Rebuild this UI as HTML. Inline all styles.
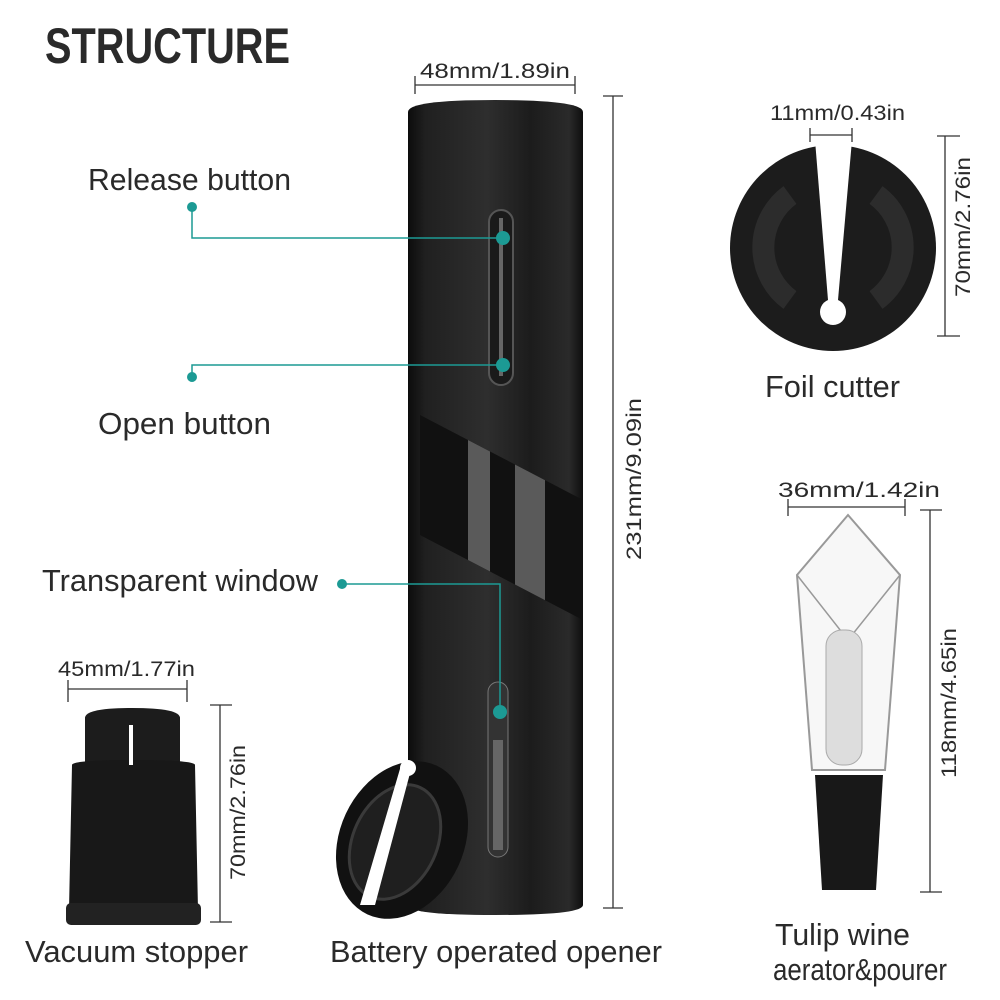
<!DOCTYPE html>
<html><head><meta charset="utf-8"><style>
html,body{margin:0;padding:0;background:#fff;width:1000px;height:1000px;overflow:hidden}
text{font-family:"Liberation Sans",sans-serif;fill:#2a2a2a}
</style></head><body>
<svg width="1000" height="1000" viewBox="0 0 1000 1000" xmlns="http://www.w3.org/2000/svg">
<defs>
<linearGradient id="cyl" x1="0" x2="1">
<stop offset="0" stop-color="#0c0c0c"/><stop offset="0.1" stop-color="#202020"/><stop offset="0.45" stop-color="#2e2e2e"/><stop offset="0.7" stop-color="#1c1c1c"/><stop offset="0.92" stop-color="#2a2a2a"/><stop offset="1" stop-color="#0e0e0e"/>
</linearGradient>
<clipPath id="band"><path d="M420 415 L583 500 L583 620 L420 535 Z"/></clipPath>
</defs>
<text x="45" y="63" font-size="50" font-weight="bold" fill="#333" textLength="245" lengthAdjust="spacingAndGlyphs">STRUCTURE</text>

<!-- main cylinder -->
<path d="M408 112 Q408 100 495 100 Q583 100 583 112 L583 905 Q583 915 495 915 Q408 915 408 905 Z" fill="url(#cyl)"/>
<g clip-path="url(#band)">
<rect x="408" y="400" width="180" height="230" fill="#111"/>
<rect x="468" y="400" width="22" height="230" fill="#5a5a5a"/>
<rect x="515" y="400" width="30" height="230" fill="#5a5a5a"/>
</g>
<rect x="489" y="210" width="24" height="175" rx="12" fill="#1a1a1a" stroke="#555" stroke-width="2"/>
<rect x="499" y="218" width="4" height="158" fill="#666"/>
<rect x="488" y="682" width="20" height="175" rx="10" fill="#333" stroke="#777"/>
<rect x="493" y="740" width="10" height="110" fill="#888" opacity="0.6"/>

<!-- cutter on opener -->
<ellipse cx="402" cy="840" rx="62" ry="82" transform="rotate(25 402 840)" fill="#111"/>
<ellipse cx="395" cy="842" rx="42" ry="60" transform="rotate(25 395 842)" fill="#1f1f1f" stroke="#3a3a3a" stroke-width="3"/>
<path d="M402 762 L413 762 L375 905 L360 905 Z" fill="#fff"/>
<circle cx="408" cy="768" r="8" fill="#fff"/>

<!-- foil cutter top right -->
<circle cx="833" cy="248" r="103" fill="#1c1c1c"/>
<path d="M790 195 A65 65 0 0 0 790 300" stroke="#2c2c2c" stroke-width="22" fill="none"/>
<path d="M876 195 A65 65 0 0 1 876 300" stroke="#2c2c2c" stroke-width="22" fill="none"/>
<path d="M815 140 L828 300 L838 300 L852 140 Z" fill="#fff"/>
<circle cx="833" cy="312" r="13" fill="#fff"/>

<!-- aerator -->
<path d="M797 575 L848 515 L900 575 L885 770 L812 770 Z" fill="#f7f7f7" stroke="#999" stroke-width="2"/>
<path d="M797 575 L848 640 L900 575" fill="none" stroke="#999" stroke-width="1.5"/>
<rect x="826" y="630" width="36" height="135" rx="16" fill="#ddd" stroke="#aaa"/>
<path d="M815 775 L883 775 L876 890 L822 890 Z" fill="#181818"/>

<!-- vacuum stopper -->
<path d="M85 718 Q85 708 132 708 Q180 708 180 718 L180 770 L85 770 Z" fill="#1c1c1c"/>
<path d="M72 765 Q72 760 132 760 Q195 760 195 765 L198 910 L69 910 Z" fill="#181818"/>
<rect x="66" y="903" width="135" height="22" rx="5" fill="#222"/>
<rect x="129" y="725" width="4" height="40" fill="#fff"/>

<!-- teal callouts -->
<g stroke="#1c9a94" stroke-width="1.5" fill="none">
<path d="M192 207 L192 238 L503 238"/>
<path d="M192 377 L192 365 L503 365"/>
<path d="M342 584 L500 584 L500 712"/>
</g>
<g fill="#1c9a94">
<circle cx="192" cy="207" r="5"/><circle cx="192" cy="377" r="5"/><circle cx="342" cy="584" r="5"/>
<circle cx="503" cy="238" r="7"/><circle cx="503" cy="365" r="7"/><circle cx="500" cy="712" r="7"/>
</g>

<!-- dimension lines -->
<g stroke="#333" stroke-width="1.3">
<line x1="415" y1="85" x2="575" y2="85"/><line x1="415" y1="76" x2="415" y2="94"/><line x1="575" y1="76" x2="575" y2="94"/>
<line x1="613" y1="96" x2="613" y2="908"/><line x1="603" y1="96" x2="623" y2="96"/><line x1="603" y1="908" x2="623" y2="908"/>
<line x1="810" y1="135" x2="852" y2="135"/><line x1="810" y1="128" x2="810" y2="142"/><line x1="852" y1="128" x2="852" y2="142"/>
<line x1="945" y1="136" x2="945" y2="336"/><line x1="937" y1="136" x2="960" y2="136"/><line x1="937" y1="336" x2="960" y2="336"/>
<line x1="788" y1="507" x2="905" y2="507"/><line x1="788" y1="499" x2="788" y2="516"/><line x1="905" y1="499" x2="905" y2="516"/>
<line x1="930" y1="510" x2="930" y2="892"/><line x1="920" y1="510" x2="942" y2="510"/><line x1="920" y1="892" x2="942" y2="892"/>
<line x1="68" y1="689" x2="187" y2="689"/><line x1="68" y1="680" x2="68" y2="702"/><line x1="187" y1="680" x2="187" y2="702"/>
<line x1="220" y1="705" x2="220" y2="922"/><line x1="210" y1="705" x2="232" y2="705"/><line x1="210" y1="922" x2="232" y2="922"/>
</g>
<g font-size="21" fill="#333">
<text x="420" y="78" textLength="150" lengthAdjust="spacingAndGlyphs">48mm/1.89in</text>
<text x="770" y="120" textLength="135" lengthAdjust="spacingAndGlyphs">11mm/0.43in</text>
<text x="778" y="497" textLength="162" lengthAdjust="spacingAndGlyphs">36mm/1.42in</text>
<text x="58" y="676" textLength="137" lengthAdjust="spacingAndGlyphs">45mm/1.77in</text>
<text transform="translate(641 560) rotate(-90)" textLength="162" lengthAdjust="spacingAndGlyphs">231mm/9.09in</text>
<text transform="translate(970 297) rotate(-90)" textLength="140" lengthAdjust="spacingAndGlyphs">70mm/2.76in</text>
<text transform="translate(956 778) rotate(-90)" textLength="150" lengthAdjust="spacingAndGlyphs">118mm/4.65in</text>
<text transform="translate(245 880) rotate(-90)" textLength="135" lengthAdjust="spacingAndGlyphs">70mm/2.76in</text>
</g>
<g font-size="31">
<text x="88" y="190" textLength="203" lengthAdjust="spacingAndGlyphs">Release button</text>
<text x="98" y="434" textLength="173" lengthAdjust="spacingAndGlyphs">Open button</text>
<text x="42" y="591" textLength="276" lengthAdjust="spacingAndGlyphs">Transparent window</text>
<text x="765" y="397" textLength="135" lengthAdjust="spacingAndGlyphs">Foil cutter</text>
<text x="25" y="962" textLength="223" lengthAdjust="spacingAndGlyphs">Vacuum stopper</text>
<text x="330" y="962" textLength="332" lengthAdjust="spacingAndGlyphs">Battery operated opener</text>
<text x="775" y="945" textLength="135" lengthAdjust="spacingAndGlyphs">Tulip wine</text>
<text x="773" y="980" textLength="174" lengthAdjust="spacingAndGlyphs">aerator&amp;pourer</text>
</g>
</svg>
</body></html>
